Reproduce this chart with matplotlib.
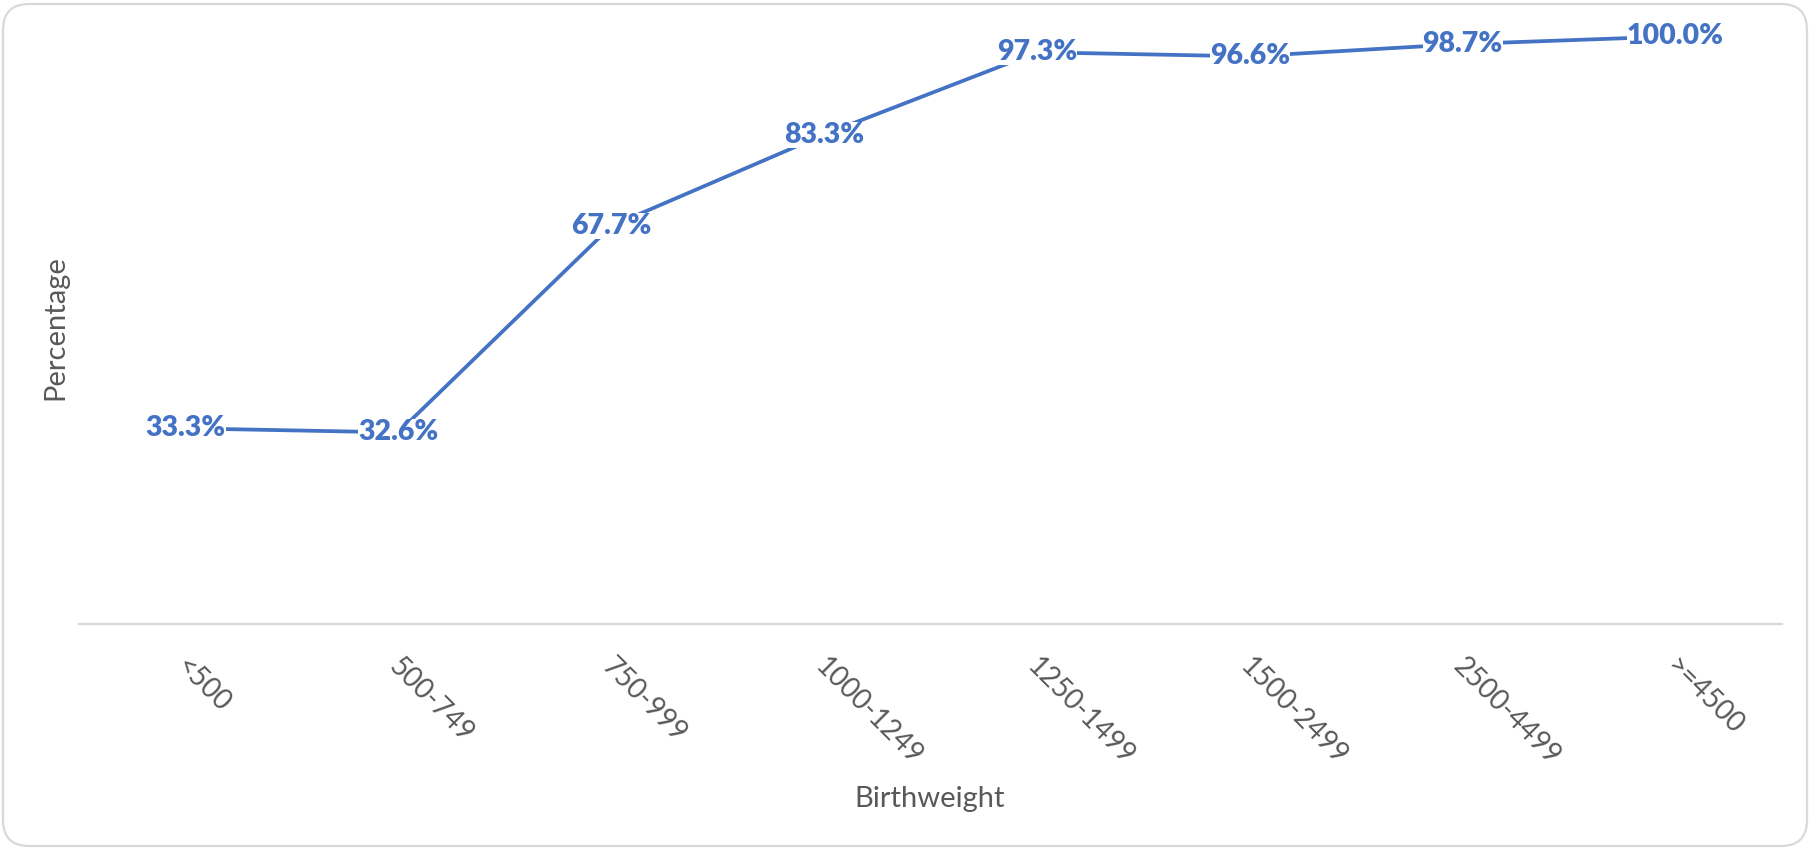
import matplotlib
matplotlib.use("Agg")
import matplotlib.pyplot as plt
import matplotlib.patches as mpatches
from matplotlib.transforms import IdentityTransform, ScaledTranslation

categories = ["<500", "500-749", "750-999", "1000-1249", "1250-1499", "1500-2499", "2500-4499", ">=4500"]
percentages = [33.3, 32.6, 67.7, 83.3, 97.3, 96.6, 98.7, 100.0]
x_title = "Birthweight"
y_title = "Percentage"

LINE_COLOR = "#4472C4"
TEXT_COLOR = "#595959"
AXIS_COLOR = "#D9D9D9"
FONT = ["Lato", "DejaVu Sans"]

plt.rcParams["font.family"] = FONT

fig = plt.figure(figsize=(18.11, 8.49), dpi=100)
fig.patch.set_facecolor("white")

# rounded chart border
border = mpatches.FancyBboxPatch((3, 3), 1804, 842,
                                 boxstyle="round,pad=0,rounding_size=26",
                                 transform=IdentityTransform(),
                                 facecolor="none", edgecolor=AXIS_COLOR, linewidth=1.6,
                                 zorder=-5)
fig.add_artist(border)

ax = fig.add_axes([79 / 1811, 225 / 849, 1703 / 1811, 617 / 849])
ax.set_zorder(2)
ax.set_facecolor("none")

xs = list(range(len(categories)))
ax.plot(xs, percentages, color=LINE_COLOR, linewidth=2.7, solid_capstyle="butt", zorder=2, clip_on=False)

for x, v in zip(xs, percentages):
    ax.text(x, v, f"{v:.1f}%", ha="center", va="center", fontsize=20.5, fontweight="heavy",
            color=LINE_COLOR, zorder=3,
            bbox=dict(boxstyle="square,pad=0", facecolor="white", edgecolor="none"))

ax.set_xlim(-0.5, len(categories) - 0.5)
ax.set_ylim(0, 105)

for s in ["top", "right", "left"]:
    ax.spines[s].set_visible(False)
ax.spines["bottom"].set_color(AXIS_COLOR)
ax.spines["bottom"].set_linewidth(1.6)

ax.set_yticks([])
ax.set_xticks(xs)
ax.set_xticklabels(categories, rotation=-45, ha="left", va="top", rotation_mode="anchor",
                   fontsize=20, color=TEXT_COLOR)
ax.tick_params(axis="x", length=0, pad=21)
offset = ScaledTranslation(4 / 100, 0, fig.dpi_scale_trans)
for lbl in ax.get_xticklabels():
    lbl.set_transform(lbl.get_transform() + offset)

fig.text(930 / 1811, 1 - 799 / 849, x_title, ha="center", va="center", fontsize=21, color=TEXT_COLOR)
fig.text(55 / 1811, 1 - 328 / 849, y_title, ha="center", va="center", rotation=90, fontsize=21, color=TEXT_COLOR)

fig.savefig("out.png", dpi=100, facecolor="white")
